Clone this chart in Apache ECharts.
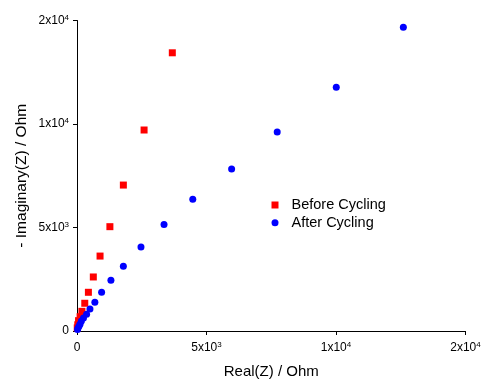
<!DOCTYPE html>
<html>
<head>
<meta charset="utf-8">
<style>
  html, body { margin: 0; padding: 0; background: #fff; }
  #chart { width: 482px; height: 380px; }
</style>
<script src="https://cdn.jsdelivr.net/npm/echarts@6/dist/echarts.min.js"></script>
</head>
<body>
<div id="chart"></div>
<script>
// Nyquist data (Ohm): real part and negated imaginary part
const beforeReal = [3680, 2590, 1790, 1270, 890, 630, 440, 300, 190, 120, 60, 30, 10];
const beforeImag = [13440, 9710, 7050, 5040, 3620, 2610, 1870, 1340, 950, 690, 500, 300, 150];
const afterReal = [12600, 10010, 7730, 5970, 4470, 3360, 2470, 1790, 1310, 950, 690, 500, 370, 250, 170, 120, 80, 40, 20];
const afterImag = [14670, 11770, 9610, 7830, 6360, 5150, 4060, 3130, 2450, 1870, 1390, 1060, 810, 630, 480, 340, 240, 140, 70];

const seriesNames = ['Before Cycling', 'After Cycling'];
// tick labels, "^" marks the exponent
const xTickLabels = ['0', '5x10^3', '1x10^4', '2x10^4'];
const yTickLabels = ['0', '5x10^3', '1x10^4', '2x10^4'];

const toPairs = (xs, ys) => xs.map((x, i) => [x, ys[i]]);

function richLabel(list) {
  return function (value) {
    const s = list[Math.round(value / 5000)];
    if (s === undefined) return '';
    const parts = s.split('^');
    return parts.length > 1 ? '{b|' + parts[0] + '}{s|' + parts[1] + '}' : '{b|' + s + '}';
  };
}

const labelRich = {
  b: { fontSize: 12, lineHeight: 14, color: '#000', fontFamily: 'Liberation Sans' },
  s: { fontSize: 8, lineHeight: 8, color: '#000', fontFamily: 'Liberation Sans', verticalAlign: 'top' }
};

const axisCommon = {
  type: 'value',
  min: 0,
  max: 15000,
  interval: 5000,
  splitLine: { show: false },
  axisLine: { show: true, lineStyle: { color: '#000', width: 1 } },
  axisTick: { show: true, length: 4, lineStyle: { color: '#000', width: 1 } },
  nameLocation: 'middle',
  nameMoveOverlap: false,
  nameTextStyle: { fontSize: 15, color: '#000', fontFamily: 'Liberation Sans' }
};

const chart = echarts.init(document.getElementById('chart'), null, { renderer: 'canvas' });
chart.setOption({
  animation: false,
  backgroundColor: '#fff',
  grid: { left: 77, right: 16.5, top: 20.5, bottom: 49, outerBoundsMode: 'none', containLabel: false },
  legend: {
    orient: 'vertical',
    left: 266.5,
    top: 192.5,
    itemWidth: 7,
    itemHeight: 7,
    itemGap: 2.7,
    textStyle: { fontSize: 14.5, lineHeight: 15, color: '#000', fontFamily: 'Liberation Sans', padding: [0, 0, 0, 8] },
    data: [
      { name: seriesNames[0], icon: 'rect' },
      { name: seriesNames[1], icon: 'circle' }
    ]
  },
  xAxis: Object.assign({}, axisCommon, {
    name: 'Real(Z) / Ohm',
    nameGap: 33,
    axisLabel: { margin: 10, formatter: richLabel(xTickLabels), rich: labelRich }
  }),
  yAxis: Object.assign({}, axisCommon, {
    name: '- Imaginary(Z) / Ohm',
    nameGap: 47,
    nameTextStyle: { fontSize: 15.5, color: '#000', fontFamily: 'Liberation Sans' },
    axisLabel: { margin: 8, formatter: richLabel(yTickLabels), rich: labelRich }
  }),
  series: [
    {
      name: seriesNames[0],
      type: 'scatter',
      symbol: 'rect',
      symbolSize: 7,
      itemStyle: { color: '#ff0000', opacity: 1 },
      data: toPairs(beforeReal, beforeImag)
    },
    {
      name: seriesNames[1],
      type: 'scatter',
      symbol: 'circle',
      symbolSize: 7,
      itemStyle: { color: '#0000ff', opacity: 1 },
      data: toPairs(afterReal, afterImag)
    }
  ]
});
</script>
</body>
</html>
